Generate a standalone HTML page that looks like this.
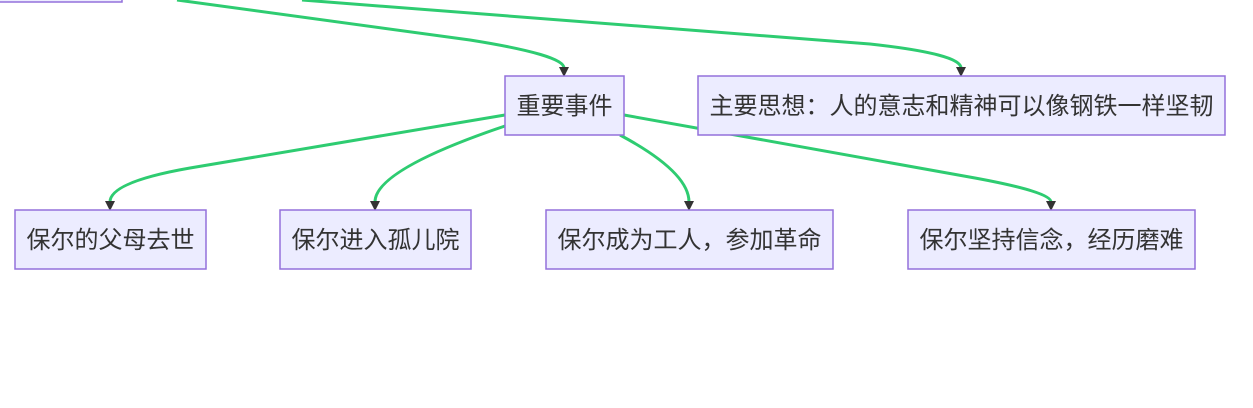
<!DOCTYPE html>
<html><head><meta charset="utf-8"><style>
body{margin:0;width:1253px;height:408px;background:#fff;overflow:hidden}
svg{display:block}
text{font-family:"Liberation Sans","Noto Sans CJK SC",sans-serif;font-size:24px;fill:#333}
</style></head><body>
<svg width="1253" height="408" viewBox="0 0 1253 408">
<g fill="none" stroke="#2ecc71" stroke-width="3">
<path d="M177,0 L470,40 Q564,55 564,68"/>
<path d="M302,0 L870,44 Q961,54 961,68"/>
<path d="M505,115 L190,168 Q110,182 110,202"/>
<path d="M505,126 Q375,170 375,202"/>
<path d="M620,135 Q689,172 689,202"/>
<path d="M624,115 L975,178 Q1051,192 1051,202"/>
</g>
<g fill="#333">
<path d="M559,67 L569,67 L564,77Z"/>
<path d="M956,67 L966,67 L961,77Z"/>
<path d="M105,201 L115,201 L110,211Z"/>
<path d="M370,201 L380,201 L375,211Z"/>
<path d="M684,201 L694,201 L689,211Z"/>
<path d="M1046,201 L1056,201 L1051,211Z"/>
</g>
<g fill="#ececff" stroke="#9370db" stroke-width="1.5">
<rect x="-2" y="-60" width="124" height="62"/>
<rect x="505" y="76" width="119" height="59"/>
<rect x="698" y="76" width="527" height="59"/>
<rect x="15" y="210" width="191" height="59"/>
<rect x="280" y="210" width="191" height="59"/>
<rect x="546" y="210" width="287" height="59"/>
<rect x="908" y="210" width="287" height="59"/>
</g>
<g text-anchor="middle">
<text x="564.5" y="114">重要事件</text>
<text x="961.5" y="114">主要思想：人的意志和精神可以像钢铁一样坚韧</text>
<text x="110.5" y="248">保尔的父母去世</text>
<text x="375.5" y="248">保尔进入孤儿院</text>
<text x="689.5" y="248">保尔成为工人，参加革命</text>
<text x="1051.5" y="248">保尔坚持信念，经历磨难</text>
</g>
</svg>
</body></html>
